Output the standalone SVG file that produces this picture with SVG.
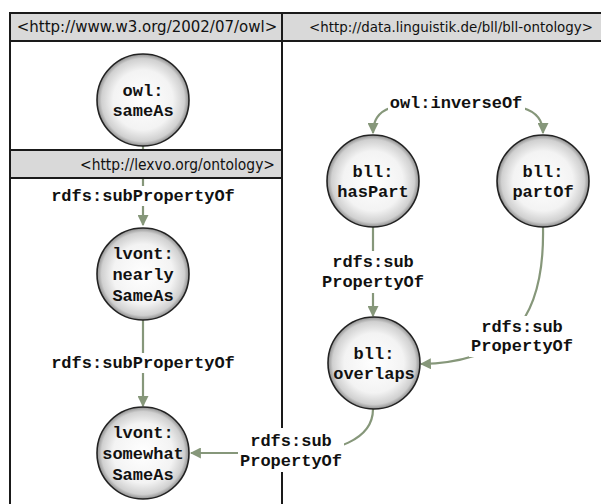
<svg xmlns="http://www.w3.org/2000/svg" width="601" height="504" viewBox="0 0 601 504">
<style>
.hdr{fill:#d9d9d9;stroke:#1a1a1a;stroke-width:2}
.frame{fill:none;stroke:#1a1a1a;stroke-width:2}
.htxt{font-family:"DejaVu Sans",Verdana,sans-serif;font-size:15px;fill:#111}
.node circle{fill:url(#g);stroke:#222;stroke-width:1.6}
.node text,.lbl text{font-family:"Liberation Mono","Courier New",monospace;font-weight:bold;font-size:17px;fill:#111;text-anchor:middle}
.edge{fill:none;stroke:#86977a;stroke-width:2.2}
.bg{fill:#fff}
</style>
<defs>
<radialGradient id="g" cx="0.5" cy="0.5" r="0.5">
<stop offset="0" stop-color="#ffffff"/>
<stop offset="0.65" stop-color="#f3f3f3"/>
<stop offset="0.9" stop-color="#d0d0d0"/>
<stop offset="1" stop-color="#8f8f8f"/>
</radialGradient>
<marker id="a" viewBox="0 0 10 10" refX="9" refY="5" markerWidth="5" markerHeight="5" orient="auto" markerUnits="strokeWidth">
<path d="M0,0 L10,5 L0,10 z" fill="#86977a"/>
</marker>
</defs>
<rect width="601" height="504" fill="#fff"/>
<g id="panels">
<rect class="hdr" x="10" y="13" width="272" height="28"/>
<rect class="hdr" x="282" y="13" width="330" height="28"/>
<line class="frame" x1="10" y1="13" x2="10" y2="510"/>
<line class="frame" x1="282" y1="13" x2="282" y2="510"/>
<text class="htxt" x="147" y="32" text-anchor="middle">&lt;http://www.w3.org/2002/07/owl&gt;</text>
<text class="htxt" x="309" y="32" style="font-size:13.5px" textLength="284" lengthAdjust="spacingAndGlyphs">&lt;http://data.linguistik.de/bll/bll-ontology&gt;</text>
</g>
<g id="connectors">
<path class="edge" d="M143,146 L143,225" marker-end="url(#a)"/>
<path class="edge" d="M143,320 L143,406" marker-end="url(#a)"/>
<path class="edge" d="M390,108 Q373,114 373,133" marker-end="url(#a)"/>
<path class="edge" d="M523,108 Q543,114 543,133" marker-end="url(#a)"/>
<path class="edge" d="M373,227 L373,316" marker-end="url(#a)"/>
<path class="edge" d="M543,227 C545,325 505,362 421,364" marker-end="url(#a)"/>
<path class="edge" d="M373,409 C373,440 335,453 290,453 L191,453" marker-end="url(#a)"/>
</g>
<g id="lexvo-header">
<rect class="hdr" x="10" y="150" width="272" height="28"/>
<text class="htxt" x="80" y="170" textLength="195" lengthAdjust="spacingAndGlyphs">&lt;http://lexvo.org/ontology&gt;</text>
</g>
<g id="labels" class="lbl">
<rect class="bg" x="50" y="186" width="187" height="20"/>
<text x="143" y="201">rdfs:subPropertyOf</text>
<rect class="bg" x="50" y="353" width="187" height="20"/>
<text x="143" y="368">rdfs:subPropertyOf</text>
<rect class="bg" x="388" y="94" width="137" height="18"/>
<text x="456" y="108">owl:inverseOf</text>
<rect class="bg" x="320" y="251" width="106" height="42"/>
<text x="373" y="267">rdfs:sub</text>
<text x="373" y="287">PropertyOf</text>
<rect class="bg" x="469" y="316" width="106" height="41"/>
<text x="522" y="332">rdfs:sub</text>
<text x="522" y="351">PropertyOf</text>
<rect class="bg" x="238" y="428" width="106" height="44"/>
<text x="291" y="446">rdfs:sub</text>
<text x="291" y="466">PropertyOf</text>
</g>
<g id="n-sameAs" class="node"><circle cx="143" cy="100" r="46"/><text x="143" y="96">owl:</text><text x="143" y="116">sameAs</text></g>
<g id="n-nearlySameAs" class="node"><circle cx="143" cy="274" r="46"/><text x="143" y="259">lvont:</text><text x="143" y="280">nearly</text><text x="143" y="301">SameAs</text></g>
<g id="n-somewhatSameAs" class="node"><circle cx="143" cy="453" r="46"/><text x="143" y="438">lvont:</text><text x="143" y="459">somewhat</text><text x="143" y="480">SameAs</text></g>
<g id="n-hasPart" class="node"><circle cx="373" cy="181" r="46"/><text x="373" y="177">bll:</text><text x="373" y="197">hasPart</text></g>
<g id="n-partOf" class="node"><circle cx="543" cy="181" r="46"/><text x="543" y="177">bll:</text><text x="543" y="197">partOf</text></g>
<g id="n-overlaps" class="node"><circle cx="374" cy="363" r="46"/><text x="374" y="359">bll:</text><text x="374" y="379">overlaps</text></g>
</svg>
